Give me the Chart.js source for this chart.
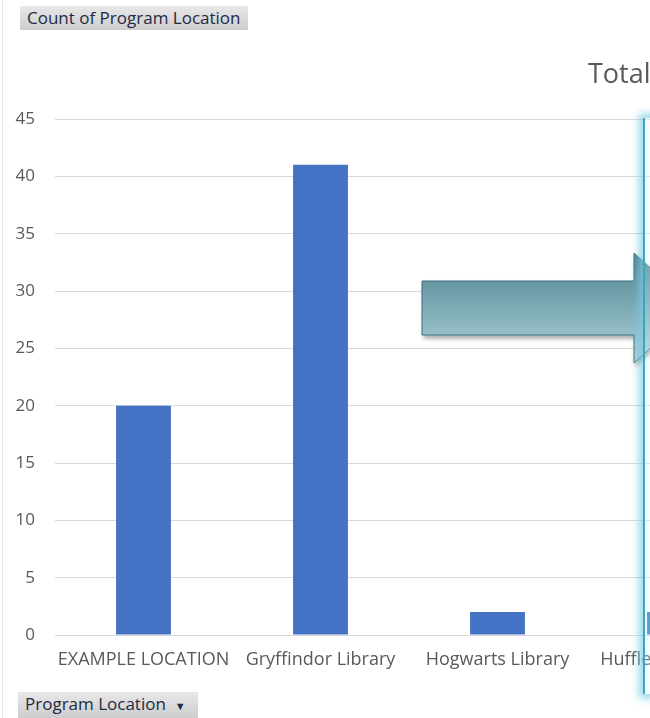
<!DOCTYPE html>
<html>
<head>
<meta charset="utf-8">
<script src="https://cdn.jsdelivr.net/npm/chart.js@4"></script>
<style>
  html, body { margin: 0; padding: 0; background: #fff; }
  body { width: 650px; height: 718px; overflow: hidden; position: relative; font-family: "Open Sans", "Noto Sans", sans-serif; }
  #wrap { position: absolute; left: 0; top: 0; width: 763px; height: 675px; }
  .pivot-btn { position: absolute; background: linear-gradient(#e8e8e8, #cdcdcd); color: #1f2a44; font-size: 17px; line-height: 24px; padding: 0 7px; white-space: nowrap; }
  #title { position: absolute; left: 588px; top: 54px; font-size: 27px; color: #595959; white-space: nowrap; }
  #sel { position: absolute; left: 643px; top: 118px; width: 40px; height: 576px; border-left: 2px solid #3fa6ba; box-shadow: 0 0 8px 4px rgba(120, 205, 228, 0.8); background: rgba(220, 243, 248, 0.25); }
  #edge { position: absolute; left: 2px; top: 0; width: 1px; height: 718px; background: #e4e4e4; }
  #arrow { position: absolute; left: 414px; top: 245px; }
</style>
</head>
<body>
<div id="edge"></div>
<div id="wrap"><canvas id="chart"></canvas></div>
<div id="title">Total</div>
<svg id="arrow" width="300" height="135">
  <defs>
    <linearGradient id="g" x1="0" y1="0" x2="0" y2="1">
      <stop offset="0" stop-color="#4b818e"/>
      <stop offset="1" stop-color="#b0d4dd"/>
    </linearGradient>
    <filter id="sh" x="-10%" y="-20%" width="130%" height="150%">
      <feDropShadow dx="2" dy="3" stdDeviation="2" flood-color="#000" flood-opacity="0.35"/>
    </filter>
  </defs>
  <path d="M8,36 L220,36 L220,8 L280,63 L220,118 L220,90 L8,90 Z" fill="url(#g)" stroke="#3d6f7b" stroke-width="1" filter="url(#sh)"/>
</svg>
<div id="sel"></div>
<div class="pivot-btn" style="left:20px; top:6px;">Count of Program Location</div>
<div class="pivot-btn" style="left:18px; top:692px; padding-right:12px;">Program Location &nbsp;<span style="font-size:11px;">&#9660;</span></div>

<script>
// pivot chart: count of program location
const locations = ['EXAMPLE LOCATION', 'Gryffindor Library', 'Hogwarts Library', 'Hufflepuff Library'];
const counts = [20, 41, 2, 2];
const yTicks = [0, 5, 10, 15, 20, 25, 30, 35, 40, 45];

const ctx = document.getElementById('chart').getContext('2d');
new Chart(ctx, {
  type: 'bar',
  data: {
    labels: locations,
    datasets: [{
      label: 'Total',
      data: counts,
      backgroundColor: '#4472c4',
      borderWidth: 0,
      categoryPercentage: 1,
      barPercentage: 0.31
    }]
  },
  options: {
    responsive: true,
    maintainAspectRatio: false,
    animation: false,
    layout: { padding: { top: 119, right: 0, bottom: 0, left: 0 } },
    plugins: {
      legend: { display: false },
      tooltip: { enabled: false }
    },
    scales: {
      x: {
        grid: { display: false, drawTicks: false },
        border: { color: '#d9d9d9', width: 1 },
        ticks: { color: '#595959', font: { family: 'Open Sans', size: 18 }, padding: 14, maxRotation: 0, autoSkip: false },
        afterFit: s => { s.height = 40; }
      },
      y: {
        min: 0,
        max: 45,
        afterBuildTicks: s => { s.ticks = yTicks.map(v => ({ value: v })); },
        grid: { color: '#d9d9d9', drawTicks: false },
        border: { display: false },
        ticks: { color: '#595959', font: { family: 'Open Sans', size: 17 }, padding: 20 },
        afterFit: s => { s.width = 55; }
      }
    }
  }
});
</script>
</body>
</html>
